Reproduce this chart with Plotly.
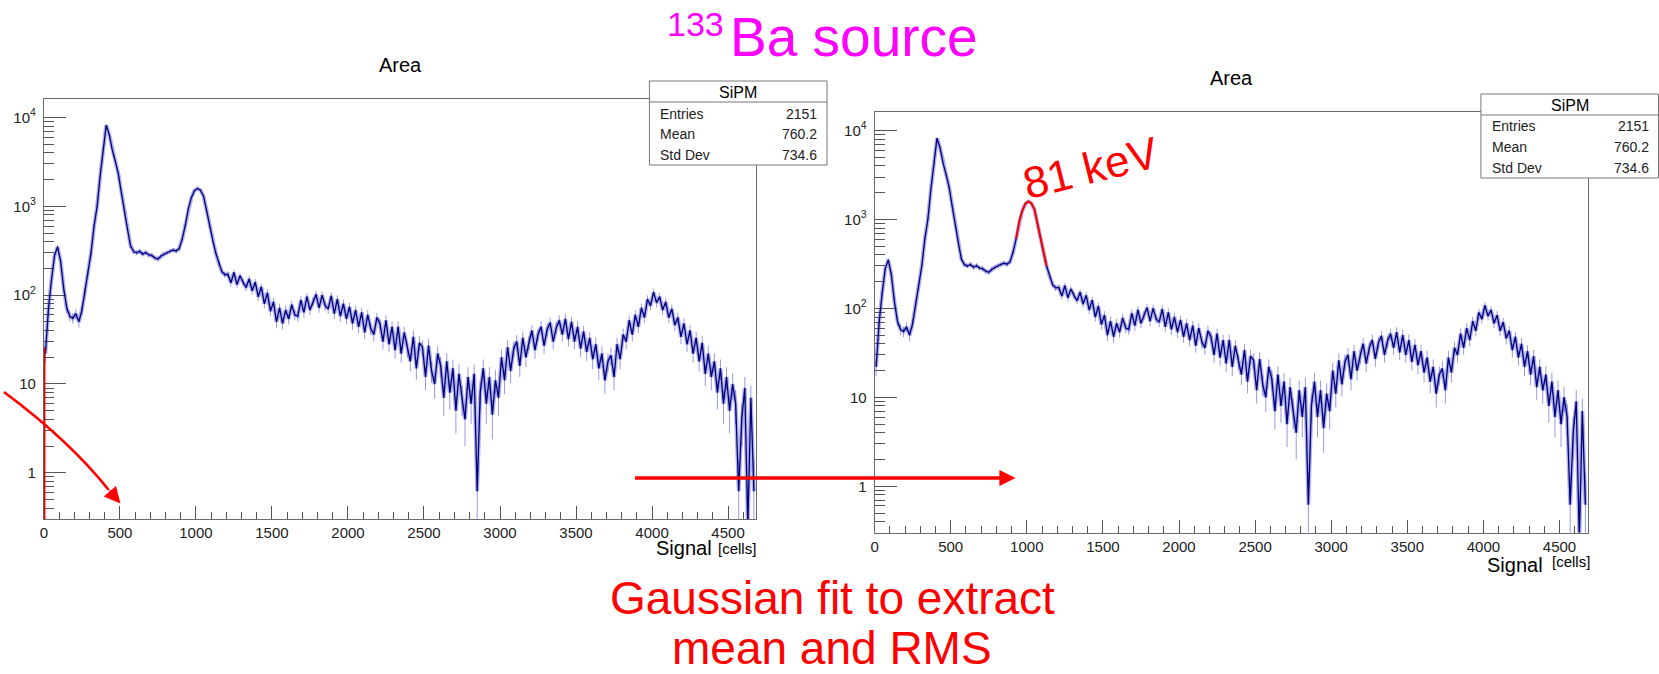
import plotly.graph_objects as go

# ---------------- data ----------------
bin_width = 20
n_bins = 234
signal = [bin_width / 2 + bin_width * i for i in range(n_bins)]  # bin centres [cells]

counts = [
    22, 70, 150, 280, 350, 240, 120, 72, 58, 55,            # 0-200
    62, 50, 68, 108, 175, 300, 600, 1000, 2200, 4500,       # 200-400
    8200, 6400, 4300, 3200, 2300, 1400, 850, 550, 360, 310, # 400-600
    300, 312, 290, 302, 284, 280, 262, 255, 276, 290,       # 600-800
    300, 312, 322, 314, 335, 430, 610, 950, 1250, 1500,     # 800-1000
    1590, 1520, 1300, 900, 600, 420, 300, 230, 185, 170,    # 1000-1200
    172, 138, 180, 132, 165, 140, 122, 152, 112, 140,       # 1200-1400
    96, 124, 80, 106, 66, 84, 50, 72, 48, 68,               # 1400-1600
    54, 78, 60, 58, 88, 64, 96, 68, 84, 102,                # 1600-1800
    72, 100, 76, 70, 98, 62, 90, 58, 80, 54,                # 1800-2000
    74, 48, 68, 44, 64, 38, 60, 42, 36, 56,                 # 2000-2200
    48, 30, 52, 28, 44, 24, 44, 22, 38, 25,                 # 2200-2400
    18, 34, 15, 29, 26, 12, 27, 14, 10, 22,                 # 2400-2600
    16, 7, 18, 8, 15, 5, 13, 7, 4, 12,                      # 2600-2800
    6, 13, 0.62, 8, 15, 6, 12, 4.5, 11, 7,                  # 2800-3000
    20, 11, 26, 14, 25, 30, 16, 33, 20, 29,                 # 3000-3200
    40, 24, 36, 44, 27, 41, 49, 30, 43, 52,                 # 3200-3400
    36, 54, 32, 50, 30, 44, 25, 39, 23, 33,                 # 3400-3600
    19, 28, 15, 22, 11, 18, 21, 12, 28, 19,                 # 3600-3800
    36, 30, 52, 36, 60, 44, 72, 56, 90, 76,                 # 3800-4000
    108, 82, 96, 68, 84, 56, 70, 46, 56, 34,                # 4000-4200
    48, 28, 40, 22, 33, 18, 29, 13, 22, 12,                 # 4200-4400
    18, 8, 15, 6, 12, 5, 10, 6, 0.62, 4,                    # 4400-4600
    9, 0.25, 7, 0.62,                                       # 4600-4680
]

fit_range = [920, 1130]          # Gaussian fit window (81 keV peak)
edge_fit_x = [0, 0]              # red fit edge at x = 0 (left panel)
edge_fit_y = [0.3, 26]

stat_title = "SiPM"
stat_labels = ["Entries", "Mean", "Std Dev"]
stat_values = ["2151", "760.2", "734.6"]

x_tick_vals = [0, 500, 1000, 1500, 2000, 2500, 3000, 3500, 4000, 4500]
x_tick_text = [str(v) for v in x_tick_vals]
y_tick_vals = [1, 10, 100, 1000, 10000]
y_tick_text = ["1", "10", "10<sup>2</sup>", "10<sup>3</sup>", "10<sup>4</sup>"]
y_minor_vals = [m * 10 ** k for k in range(-1, 5) for m in range(2, 10)]

# ---------------- geometry helpers ----------------
W, H = 1659, 674
FONT = "Liberation Sans, Arial, Helvetica, sans-serif"


def px(x):
    return x / W


def py(y):
    return 1 - y / H


fit_x = [s for s in signal if fit_range[0] <= s <= fit_range[1]]
fit_y = [c for s, c in zip(signal, counts) if fit_range[0] <= s <= fit_range[1]]

fig = go.Figure()

panels = [
    dict(xa="x", ya="y", left=40, right=754, top=99.3, bottom=519),
    dict(xa="x2", ya="y2", left=872.7, right=1587.5, top=112.3, bottom=532.5),
]

for i, p in enumerate(panels):
    # statistical error bars (light) + histogram line (dark)
    fig.add_trace(go.Scatter(x=signal, y=counts, mode="lines",
                             line=dict(color="rgba(60,60,200,0.40)", width=4),
                             error_y=dict(type="sqrt", color="rgba(70,70,210,0.55)",
                                          thickness=1, width=0),
                             xaxis=p["xa"], yaxis=p["ya"], showlegend=False,
                             hoverinfo="skip"))
    fig.add_trace(go.Scatter(x=signal, y=counts, mode="lines",
                             line=dict(color="#00007a", width=1.3),
                             xaxis=p["xa"], yaxis=p["ya"], showlegend=False,
                             name="SiPM"))

# red edge on left panel
fig.add_trace(go.Scatter(x=edge_fit_x, y=edge_fit_y, mode="lines",
                         line=dict(color="#e00000", width=3),
                         xaxis="x", yaxis="y", showlegend=False))
# gaussian fit overlay on right panel
fig.add_trace(go.Scatter(x=fit_x, y=fit_y, mode="lines",
                         line=dict(color="#ff0000", width=2),
                         xaxis="x2", yaxis="y2", showlegend=False))

axis_common_x = dict(
    type="linear", range=[0, 4685], showline=True, mirror=True,
    linecolor="#6a6a6a", linewidth=1, ticks="inside", ticklen=13,
    tickcolor="#555", tickwidth=1, tickmode="array", tickvals=x_tick_vals,
    ticktext=x_tick_text, tickfont=dict(family=FONT, size=15, color="#222"),
    minor=dict(ticks="inside", ticklen=7, tick0=0, dtick=100, tickcolor="#555"),
    showgrid=False, zeroline=False, layer="below traces",
)
axis_common_y = dict(
    type="log", range=[-0.52, 4.205], showline=True, mirror=True,
    linecolor="#6a6a6a", linewidth=1, ticks="inside", ticklen=22,
    tickcolor="#555", tickwidth=1, tickmode="array", tickvals=y_tick_vals,
    ticktext=y_tick_text, tickfont=dict(family=FONT, size=15, color="#222"),
    minor=dict(ticks="inside", ticklen=10, tickmode="array",
               tickvals=y_minor_vals, tickcolor="#555"),
    showgrid=False, zeroline=False, layer="below traces", ticklabelstandoff=4,
)

layout_axes = {}
for i, p in enumerate(panels):
    sx = "" if i == 0 else "2"
    layout_axes["xaxis" + sx] = dict(axis_common_x, domain=[px(p["left"]), px(p["right"])],
                                     anchor="y" + sx)
    layout_axes["yaxis" + sx] = dict(axis_common_y, domain=[py(p["bottom"]), py(p["top"])],
                                     anchor="x" + sx)

fig.update_layout(
    width=W, height=H, autosize=False,
    margin=dict(l=0, r=0, t=0, b=0, pad=0),
    paper_bgcolor="white", plot_bgcolor="white",
    showlegend=False,
    **layout_axes,
)

shapes = []
annotations = []


def text(x, y, s, size, color="black", xanchor="center", yanchor="middle", angle=0):
    annotations.append(dict(x=px(x), y=py(y), xref="paper", yref="paper", text=s,
                            showarrow=False, xanchor=xanchor, yanchor=yanchor,
                            textangle=angle,
                            font=dict(family=FONT, size=size, color=color)))


# titles
text(724, 24, "133", 34, "#ff00ff", xanchor="right")
text(726, 37, "Ba source", 55, "#ff00ff", xanchor="left")
text(397, 65, "Area", 20)
text(1230, 78, "Area", 20)

# stat boxes
for (bx, by) in [(647, 81), (1480.5, 94)]:
    bw, bh, hh = 178, 84, 21
    shapes.append(dict(type="rect", xref="paper", yref="paper",
                       x0=px(bx), x1=px(bx + bw), y0=py(by + bh), y1=py(by),
                       line=dict(color="#777", width=1), fillcolor="white", layer="above"))
    shapes.append(dict(type="line", xref="paper", yref="paper",
                       x0=px(bx), x1=px(bx + bw), y0=py(by + hh), y1=py(by + hh),
                       line=dict(color="#777", width=1), layer="above"))
    text(bx + bw / 2, by + 11.5, stat_title, 16)
    for k, (lab, val) in enumerate(zip(stat_labels, stat_values)):
        yy = by + 32.5 + 20.8 * k
        text(bx + 9, yy, lab, 14, "#222", xanchor="left")
        text(bx + bw - 8, yy, val, 14, "#222", xanchor="right")

# axis titles
text(712, 548, "Signal", 20, xanchor="right")
text(714, 548, "[cells]", 15, xanchor="left")
text(1545, 565, "Signal", 20, xanchor="right")
text(1550, 561, "[cells]", 15, xanchor="left")

# 81 keV
text(1090, 168, "81 keV", 44, "#ff0000", angle=-14)

# bottom text
text(831, 598, "Gaussian fit to extract", 46, "#ff0000")
text(830, 648, "mean and RMS", 46, "#ff0000")

# straight arrow
annotations.append(dict(x=px(1014), y=py(478), xref="paper", yref="paper",
                        ax=-382, ay=0, axref="pixel", ayref="pixel", text="",
                        showarrow=True, arrowhead=2, arrowsize=0.95, arrowwidth=3.4,
                        arrowcolor="#ff0000", standoff=0))
# curved arrow
p0, c, p2 = (0, 392), (66, 441), (105, 490)
shapes.append(dict(type="path", xref="paper", yref="paper",
                   path=f"M {px(p0[0])},{py(p0[1])} Q {px(c[0])},{py(c[1])} {px(p2[0])},{py(p2[1])}",
                   line=dict(color="#ff0000", width=2.7), layer="above"))
annotations.append(dict(x=px(116.7), y=py(503.5), xref="paper", yref="paper",
                        ax=-12, ay=-14, axref="pixel", ayref="pixel", text="",
                        showarrow=True, arrowhead=2, arrowsize=1.2, arrowwidth=2.7,
                        arrowcolor="#ff0000", standoff=0))

fig.update_layout(shapes=shapes, annotations=annotations)

fig.write_html("out.html",
               config={"displayModeBar": False},
               post_script="document.body.style.margin='0px';"
                           "document.documentElement.style.overflow='hidden';")
